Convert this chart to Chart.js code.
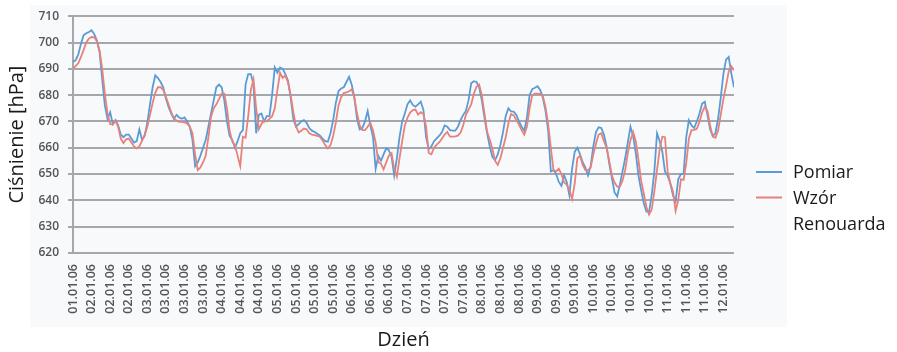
<!DOCTYPE html>
<html>
<head>
<meta charset="utf-8">
<script src="https://cdn.jsdelivr.net/npm/chart.js@4.4.1/dist/chart.umd.min.js"></script>
<style>
  html, body { margin: 0; padding: 0; background: #ffffff; }
  canvas { display: block; }
</style>
</head>
<body>
<canvas id="chart" width="897" height="352"></canvas>
<script>
// Date labels along the time axis (one label every 7 hourly readings)
const tickLabels = [
  '01.01.06', '02.01.06', '02.01.06', '02.01.06',
  '03.01.06', '03.01.06', '03.01.06', '03.01.06',
  '04.01.06', '04.01.06', '04.01.06',
  '05.01.06', '05.01.06', '05.01.06', '05.01.06',
  '06.01.06', '06.01.06', '06.01.06',
  '07.01.06', '07.01.06', '07.01.06', '07.01.06',
  '08.01.06', '08.01.06', '08.01.06',
  '09.01.06', '09.01.06', '09.01.06',
  '10.01.06', '10.01.06', '10.01.06', '10.01.06',
  '11.01.06', '11.01.06', '11.01.06',
  '12.01.06'
];
const hoursPerLabel = 7;

// Measured pressure, hourly [hPa]
const pomiar = [
  692.6, 693.3, 695.5, 699.5, 702.8, 703.5, 704.0, 704.7, 703.2, 700.8,
  696.5, 686.0, 676.0, 671.0, 673.5, 669.0, 670.5, 668.5, 665.0, 664.0,
  665.0, 665.0, 663.5, 662.0, 662.5, 667.0, 663.0, 664.5, 669.5, 676.5,
  683.0, 687.5, 686.5, 685.0, 683.0, 678.7, 675.5, 673.0, 671.0, 672.5,
  671.5, 671.0, 671.5, 670.0, 668.0, 663.0, 653.0, 654.5, 657.0, 660.0,
  663.0, 668.0, 673.0, 678.0, 683.0, 684.0, 683.0, 678.0, 670.0, 664.5,
  663.0, 660.0, 662.5, 665.5, 666.7, 684.0, 688.0, 688.0, 684.0, 665.5,
  672.5, 673.0, 670.0, 672.0, 672.0, 680.0, 690.5, 688.5, 690.5, 690.0,
  688.0, 685.5, 679.0, 671.0, 668.0, 669.0, 670.0, 670.5, 669.5, 667.5,
  666.5, 666.0, 665.3, 664.7, 663.5, 662.5, 662.3, 665.5, 670.5, 677.0,
  681.5, 682.5, 683.0, 685.0, 687.0, 684.0, 679.0, 671.0, 667.0, 667.5,
  670.0, 674.0, 668.5, 664.2, 652.0, 657.0, 655.0, 657.5, 659.8, 659.0,
  656.6, 649.5, 656.0, 664.0, 670.0, 673.0, 676.5, 678.0, 676.3, 675.6,
  676.5, 677.5, 674.5, 664.0, 659.5, 660.5, 662.5, 663.6, 664.6, 666.0,
  668.5, 668.0, 666.7, 666.5, 666.5, 668.0, 670.5, 672.5, 674.0, 678.0,
  684.5, 685.3, 685.0, 683.0, 678.0, 671.5, 665.5, 660.5, 656.5, 655.3,
  657.5, 661.0, 666.0, 672.0, 675.0, 673.8, 673.7, 672.5, 670.0, 668.0,
  666.5, 671.5, 680.0, 682.3, 682.8, 683.4, 682.0, 679.0, 674.0, 666.5,
  651.0, 651.5, 650.0, 647.0, 645.5, 649.5, 647.0, 642.0, 652.0, 658.5,
  660.0, 657.5, 654.5, 652.5, 649.5, 653.0, 660.5, 666.0, 667.8, 667.5,
  665.0, 660.5, 654.0, 648.5, 643.0, 641.5, 646.0, 651.0, 656.0, 662.0,
  668.0, 664.5, 658.0, 649.5, 644.0, 639.0, 635.8, 635.5, 642.0, 651.0,
  665.5, 662.5, 658.5, 651.0, 649.3, 646.5, 642.0, 639.5, 648.0, 650.0,
  650.0, 664.0, 670.5, 668.5, 667.5, 670.0, 673.0, 676.8, 677.5, 672.5,
  667.0, 664.5, 665.5, 671.0, 679.0, 688.0, 693.5, 694.5, 688.2, 683.0
];

// Pressure from Renouard's formula, hourly [hPa]
const wzorRenouarda = [
  690.1, 691.0, 692.2, 694.5, 697.2, 700.0, 701.5, 702.1, 702.0, 700.5,
  697.0, 690.0, 680.5, 673.0, 669.0, 668.8, 670.3, 668.0, 663.5, 661.8,
  663.2, 663.5, 662.0, 660.5, 659.8, 660.5, 662.6, 665.0, 668.0, 672.5,
  677.0, 681.0, 683.0, 683.0, 682.0, 679.4, 676.5, 673.5, 671.2, 670.3,
  669.8, 669.8, 669.7, 669.2, 668.0, 665.5, 657.5, 651.5, 652.5, 654.5,
  657.0, 664.0, 671.8, 675.0, 676.5, 678.5, 680.6, 680.6, 675.0, 666.5,
  662.3, 661.0, 657.0, 653.0, 664.2, 663.8, 672.0, 682.0, 686.0, 675.0,
  667.0, 669.0, 670.5, 670.0, 671.0, 672.0, 675.0, 682.0, 688.5, 686.5,
  687.5, 684.8, 680.0, 673.5, 668.2, 665.8, 666.5, 667.3, 667.0, 665.5,
  665.0, 664.8, 664.5, 664.2, 662.8, 661.0, 659.7, 661.0, 664.5, 669.5,
  676.0, 679.2, 680.8, 681.0, 681.5, 682.2, 679.0, 673.0, 668.5, 666.7,
  666.7, 668.0, 669.5, 666.7, 662.0, 654.5, 654.0, 651.8, 654.5, 657.0,
  657.9, 652.0, 649.0, 656.0, 662.5, 668.5, 671.5, 673.4, 674.3, 674.5,
  672.6, 673.5, 672.8, 668.0, 658.0, 657.5, 660.0, 661.2, 662.1, 663.5,
  665.0, 666.0, 664.2, 664.2, 664.3, 664.6, 665.8, 668.6, 672.5, 674.5,
  676.5, 680.5, 683.2, 684.0, 680.0, 673.0, 666.0, 663.0, 659.5, 655.0,
  653.5, 656.0, 660.0, 664.0, 669.2, 672.8, 672.3, 670.5, 668.8, 666.7,
  665.0, 668.0, 675.0, 680.0, 680.6, 680.6, 680.5, 679.6, 675.5, 669.0,
  660.0, 651.5, 651.0, 652.0, 650.0, 646.8, 646.0, 644.0, 640.5, 646.5,
  656.0, 657.0, 653.5, 651.5, 651.5, 652.5, 657.5, 661.5, 665.0, 665.5,
  662.5, 660.0, 655.0, 649.5, 646.8, 645.2, 645.2, 647.5, 651.5, 658.0,
  662.9, 666.0, 662.5, 655.5, 647.5, 642.7, 637.5, 634.6, 636.5, 643.5,
  651.5, 659.5, 664.2, 664.0, 651.0, 646.5, 643.5, 636.0, 640.0, 648.0,
  647.8, 654.0, 663.5, 666.7, 666.8, 667.2, 669.8, 673.5, 675.6, 674.0,
  668.5, 664.2, 663.8, 666.5, 672.5, 678.5, 683.5, 689.0, 691.0, 689.5
];

// Y axis range and ticks [hPa]
const yMin = 620;
const yMax = 710;
const yStep = 10;

// Legend entries (second entry wraps over two lines)
const legendEntries = [
  { lines: ['Pomiar'], color: '#5b9bd5' },
  { lines: ['Wzór', 'Renouarda'], color: '#e8817b' }
];

const toPoints = arr => arr.map((v, i) => ({ x: i, y: v }));

// Light panel behind the plot
const panelPlugin = {
  id: 'panel',
  beforeDraw(chart) {
    const { ctx, chartArea } = chart;
    ctx.save();
    ctx.fillStyle = '#ffffff';
    ctx.fillRect(0, 0, chart.width, chart.height);
    ctx.fillStyle = '#f8f9fa';
    ctx.fillRect(chartArea.left - 43, 5, chartArea.right - chartArea.left + 96, chartArea.bottom + 69);
    ctx.restore();
  }
};

// Legend at the right with line samples
const sideLegend = {
  id: 'sideLegend',
  afterDraw(chart) {
    const { ctx, chartArea } = chart;
    const lineX0 = chartArea.right + 22;
    const lineX1 = chartArea.right + 48;
    const textX = chartArea.right + 59;
    const lineH = 26.5;
    let y = 172;
    ctx.save();
    ctx.font = '18px "Open Sans", sans-serif';
    ctx.textBaseline = 'middle';
    ctx.textAlign = 'left';
    legendEntries.forEach(entry => {
      ctx.strokeStyle = entry.color;
      ctx.lineWidth = 2;
      ctx.beginPath();
      ctx.moveTo(lineX0, y);
      ctx.lineTo(lineX1, y);
      ctx.stroke();
      ctx.fillStyle = '#1a1a1a';
      entry.lines.forEach((t, k) => ctx.fillText(t, textX, y + 1 + k * lineH));
      y += lineH * (entry.lines.length - 1) - 1;
      y += lineH;
    });
    ctx.restore();
  }
};

new Chart(document.getElementById('chart'), {
  type: 'line',
  data: {
    datasets: [
      {
        label: 'Pomiar',
        data: toPoints(pomiar),
        borderColor: legendEntries[0].color,
        borderWidth: 1.8,
        pointRadius: 0,
        tension: 0,
        order: 1
      },
      {
        label: 'Wzór Renouarda',
        data: toPoints(wzorRenouarda),
        borderColor: legendEntries[1].color,
        borderWidth: 1.8,
        pointRadius: 0,
        tension: 0,
        order: 0
      }
    ]
  },
  options: {
    responsive: false,
    animation: false,
    devicePixelRatio: 1,
    layout: { padding: { left: 0, right: 163, top: 16, bottom: 0 } },
    plugins: {
      legend: { display: false },
      tooltip: { enabled: false }
    },
    scales: {
      x: {
        type: 'linear',
        min: 0,
        max: pomiar.length - 1,
        afterBuildTicks: scale => {
          scale.ticks = tickLabels.map((_, i) => ({ value: i * hoursPerLabel }));
        },
        afterFit: scale => { scale.height = 99; },
        grid: { display: false, drawTicks: false },
        border: { display: false },
        ticks: {
          autoSkip: false,
          minRotation: 90,
          maxRotation: 90,
          padding: 11,
          color: '#50555c',
          font: { family: '"Open Sans", sans-serif', size: 12.5, weight: '600' },
          callback: value => tickLabels[Math.round(value / hoursPerLabel)]
        },
        title: {
          display: true,
          text: 'Dzień',
          color: '#1a1a1a',
          font: { family: '"Open Sans", sans-serif', size: 20 },
          padding: { top: 0, bottom: 0 }
        }
      },
      y: {
        min: yMin,
        max: yMax,
        afterFit: scale => { scale.width = 73; },
        ticks: {
          stepSize: yStep,
          padding: 9,
          color: '#50555c',
          font: { family: '"Open Sans", sans-serif', size: 12, weight: '600' }
        },
        grid: {
          color: '#a4a8ac',
          lineWidth: 2,
          tickLength: 5
        },
        border: { display: true, color: '#a4a8ac', width: 2 },
        title: {
          display: true,
          text: 'Ciśnienie [hPa]',
          color: '#1a1a1a',
          font: { family: '"Open Sans", sans-serif', size: 20 },
          padding: { top: 5, bottom: 0 }
        }
      }
    }
  },
  plugins: [panelPlugin, sideLegend]
});
</script>
</body>
</html>
